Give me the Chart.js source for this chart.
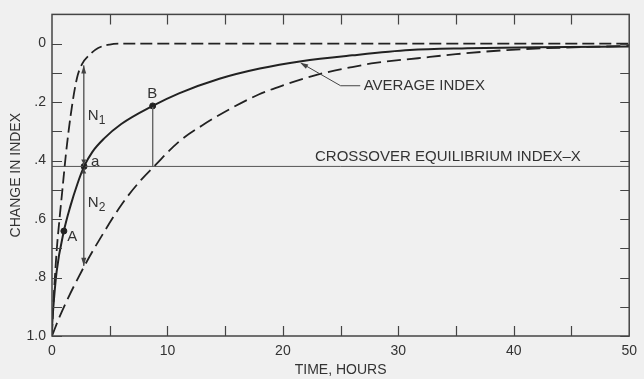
<!DOCTYPE html>
<html>
<head>
<meta charset="utf-8">
<script src="https://cdn.jsdelivr.net/npm/chart.js@4/dist/chart.umd.min.js"></script>
<style>
  html, body { margin: 0; padding: 0; background: #f0f0f0; }
  #wrap { width: 644px; height: 379px; }
</style>
</head>
<body>
<div id="wrap"><canvas id="chart" width="644" height="379"></canvas></div>
<script>
// values (time in hours, change in index)
const fastT = [0, 0.1, 0.25, 0.42, 0.65, 0.9, 1.2, 1.6, 2.15, 2.6, 3.2, 4.0, 5.0, 6, 10, 20, 30, 40, 50];
const fastV = [1.0, 0.9, 0.8, 0.7, 0.6, 0.5, 0.38, 0.25, 0.12, 0.07, 0.04, 0.015, 0.003, 0, 0, 0, 0, 0, 0];

const avgT = [0, 0.1, 0.4, 1.03, 1.6, 2.2, 2.78, 3.5, 4.5, 6, 8.72, 11, 14.5, 18, 21.6, 26, 31, 36, 42, 50];
const avgV = [0.97, 0.91, 0.78, 0.641, 0.555, 0.48, 0.42, 0.37, 0.325, 0.275, 0.213, 0.17, 0.12, 0.085, 0.06, 0.04, 0.022, 0.016, 0.012, 0.01];

const slowT = [0, 0.7, 2.84, 4.5, 6.14, 7.72, 8.86, 11, 13, 15.3, 17.9, 20, 23, 26, 28, 31.7, 35, 39.4, 44, 50];
const slowV = [1.0, 0.93, 0.758, 0.645, 0.544, 0.466, 0.419, 0.335, 0.28, 0.226, 0.174, 0.143, 0.106, 0.08, 0.066, 0.05, 0.036, 0.022, 0.014, 0.008];

const crossover = 0.42;
const markT = [1.03, 2.78, 8.72];
const markV = [0.641, 0.42, 0.213];

// arrows N1 / N2 at point a, drop line from B
const nLineT = 2.75;
const n1Top = 0.075;
const n2Bottom = 0.76;

const yLabelValues = [0, 0.2, 0.4, 0.6, 0.8, 1.0];
const yLabelTexts = ['0', '.2', '.4', '.6', '.8', '1.0'];
const xLabelValues = [0, 10, 20, 30, 40, 50];

const INK = '#333';
const FONT = '"Liberation Sans", Arial, sans-serif';

function pts(xs, ys) {
  return xs.map((x, i) => ({ x: x, y: ys[i] }));
}

function arrowHead(ctx, x, y, ang, len, w) {
  ctx.save();
  ctx.translate(x, y);
  ctx.rotate(ang);
  ctx.beginPath();
  ctx.moveTo(0, 0);
  ctx.lineTo(-len, -w);
  ctx.lineTo(-len, w);
  ctx.closePath();
  ctx.fill();
  ctx.restore();
}

const decor = {
  id: 'decor',
  afterDatasetsDraw(chart) {
    const ctx = chart.ctx;
    const xs = chart.scales.x, ys = chart.scales.y;
    const a = chart.chartArea;
    const X = v => xs.getPixelForValue(v);
    const Y = v => ys.getPixelForValue(v);

    ctx.save();
    ctx.strokeStyle = '#444';
    ctx.fillStyle = INK;
    ctx.lineWidth = 1.5;
    ctx.strokeRect(a.left, a.top, a.right - a.left, a.bottom - a.top);

    // inward ticks
    ctx.lineWidth = 1.2;
    ctx.beginPath();
    for (let i = 0; i <= 10; i++) {
      const yy = Math.round(Y(i / 10)) + 0.5;
      ctx.moveTo(a.left, yy); ctx.lineTo(a.left + 10, yy);
      ctx.moveTo(a.right, yy); ctx.lineTo(a.right - 9, yy);
    }
    for (let t = 5; t < 50; t += 5) {
      const xx = Math.round(X(t)) + 0.5;
      ctx.moveTo(xx, a.bottom); ctx.lineTo(xx, a.bottom - 10);
      ctx.moveTo(xx, a.top); ctx.lineTo(xx, a.top + 10);
    }
    ctx.stroke();

    // arrowheads on N1 / N2
    ctx.fillStyle = '#444';
    arrowHead(ctx, X(nLineT), Y(n1Top), -Math.PI / 2, 8, 2.5);
    arrowHead(ctx, X(nLineT), Y(n2Bottom), Math.PI / 2, 8, 2.5);
    arrowHead(ctx, X(nLineT), Y(crossover) - 2, Math.PI / 2, 5, 2.5);
    arrowHead(ctx, X(nLineT), Y(crossover) + 2, -Math.PI / 2, 5, 2.5);

    // AVERAGE INDEX leader
    ctx.strokeStyle = '#444';
    ctx.lineWidth = 1;
    ctx.beginPath();
    ctx.moveTo(X(26.7), Y(0.144));
    ctx.lineTo(X(25.0), Y(0.144));
    ctx.lineTo(X(21.6), Y(0.067));
    ctx.stroke();
    const ang = Math.atan2(Y(0.067) - Y(0.144), X(21.6) - X(25.0));
    arrowHead(ctx, X(21.5), Y(0.065), ang, 8, 2.5);

    // text labels
    ctx.fillStyle = INK;
    ctx.textBaseline = 'middle';
    ctx.textAlign = 'left';
    ctx.font = '15px ' + FONT;
    ctx.fillText('AVERAGE INDEX', X(27.0), Y(0.144));
    ctx.fillText('CROSSOVER EQUILIBRIUM INDEX\u2013X', X(22.78), Y(0.387));

    ctx.textAlign = 'center';
    ctx.fillText('A', X(1.75), Y(0.66));
    ctx.fillText('B', X(8.69), Y(0.172));
    ctx.fillText('a', X(3.75), Y(0.404));

    ctx.textAlign = 'left';
    ctx.fillText('N', X(3.1), Y(0.246));
    ctx.fillText('N', X(3.1), Y(0.545));
    ctx.font = '12px ' + FONT;
    ctx.fillText('1', X(3.1) + 11, Y(0.246) + 5);
    ctx.fillText('2', X(3.1) + 11, Y(0.545) + 5);
    ctx.restore();
  }
};

new Chart(document.getElementById('chart'), {
  type: 'scatter',
  data: {
    datasets: [
      {
        data: pts(fastT, fastV), showLine: true, borderColor: '#222', borderWidth: 1.8,
        borderDash: [12, 5], pointRadius: 0, cubicInterpolationMode: 'monotone'
      },
      {
        data: pts(avgT, avgV), showLine: true, borderColor: '#222', borderWidth: 2,
        pointRadius: 0, cubicInterpolationMode: 'monotone'
      },
      {
        data: pts(slowT, slowV), showLine: true, borderColor: '#222', borderWidth: 1.8,
        borderDash: [14, 6], pointRadius: 0, cubicInterpolationMode: 'monotone'
      },
      {
        data: [{ x: 0, y: crossover }, { x: 50, y: crossover }], showLine: true,
        borderColor: '#555', borderWidth: 1, pointRadius: 0
      },
      {
        data: [{ x: nLineT, y: n1Top }, { x: nLineT, y: n2Bottom }], showLine: true,
        borderColor: '#666', borderWidth: 1, pointRadius: 0
      },
      {
        data: [{ x: markT[2], y: markV[2] }, { x: markT[2], y: crossover }], showLine: true,
        borderColor: '#666', borderWidth: 1, pointRadius: 0
      },
      {
        data: pts(markT, markV), showLine: false, pointRadius: 3,
        pointBackgroundColor: '#222', pointBorderColor: '#222'
      }
    ]
  },
  options: {
    responsive: false,
    animation: false,
    events: [],
    layout: { padding: { top: 10, right: 11, left: 0, bottom: 0 } },
    plugins: { legend: { display: false }, tooltip: { enabled: false } },
    scales: {
      x: {
        type: 'linear', min: 0, max: 50,
        grid: { display: false, drawTicks: false }, border: { display: false },
        afterFit: s => { s.height = 43; },
        afterBuildTicks: s => { s.ticks = xLabelValues.map(v => ({ value: v })); },
        ticks: { color: INK, font: { family: FONT, size: 14 }, padding: 7, maxRotation: 0,
          callback: v => String(v) },
        title: { display: true, text: 'TIME, HOURS', color: INK,
          font: { family: FONT, size: 14 }, padding: { top: 0, bottom: 0 } }
      },
      y: {
        type: 'linear', min: -0.1, max: 1.0, reverse: true,
        grid: { display: false, drawTicks: false }, border: { display: false },
        afterFit: s => { s.width = 52; },
        afterBuildTicks: s => { s.ticks = yLabelValues.map(v => ({ value: v })); },
        ticks: { color: INK, font: { family: FONT, size: 14 }, padding: 6,
          callback: v => yLabelTexts[yLabelValues.findIndex(u => Math.abs(u - v) < 1e-6)] },
        title: { display: true, text: 'CHANGE IN INDEX', color: INK,
          font: { family: FONT, size: 14 }, padding: { top: 8, bottom: 0 } }
      }
    }
  },
  plugins: [decor]
});
</script>
</body>
</html>
